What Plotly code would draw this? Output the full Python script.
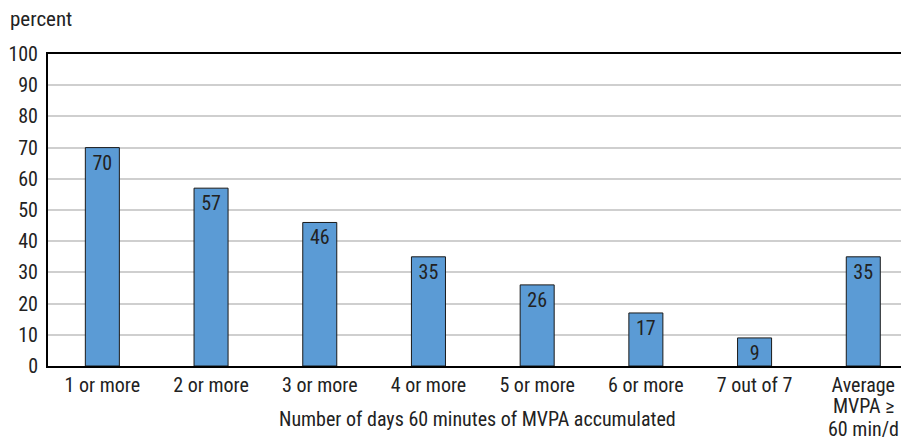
import plotly.graph_objects as go

categories = ["1 or more", "2 or more", "3 or more", "4 or more", "5 or more",
              "6 or more", "7 out of 7", "Average"]
last_label_extra = ["MVPA ≥", "60 min/d"]
values = [70, 57, 46, 35, 26, 17, 9, 35]
y_ticks = [0, 10, 20, 30, 40, 50, 60, 70, 80, 90, 100]

FONT = "Liberation Sans Narrow, Arial Narrow, Roboto Condensed, sans-serif"
TEXT = "#222222"
SIZE = 20
PLOT_H = 312  # px height of the plotting area

x_pos = list(range(len(categories)))

fig = go.Figure(go.Bar(
    x=x_pos,
    y=values,
    width=0.313,
    marker=dict(color="#5b9bd5", line=dict(color="#1a1a1a", width=1)),
    text=[str(v) for v in values],
    textposition="inside",
    insidetextanchor="end",
    textangle=0,
    constraintext="none",
    textfont=dict(family=FONT, size=SIZE, color=TEXT),
    cliponaxis=False,
))

# continuation lines of the last category label, set with tighter leading
extra_annotations = [
    dict(text=t, xref="x", yref="paper", x=x_pos[-1], y=-(40 + 23 * i) / PLOT_H,
         xanchor="center", yanchor="middle", showarrow=False,
         font=dict(family=FONT, size=SIZE, color=TEXT))
    for i, t in enumerate(last_label_extra)
]

fig.update_layout(
    width=901, height=438,
    margin=dict(l=48, r=0, t=54, b=72),
    paper_bgcolor="white", plot_bgcolor="white",
    showlegend=False,
    font=dict(family=FONT, size=SIZE, color=TEXT),
    uniformtext=dict(minsize=SIZE, mode="show"),
    xaxis=dict(
        tickmode="array", tickvals=x_pos, ticktext=categories,
        range=[-0.5, 7.347], automargin=False,
        showline=True, linecolor="black", linewidth=2, mirror=True,
        showgrid=False, ticks="", ticklen=0,
        tickfont=dict(family=FONT, size=SIZE, color=TEXT),
    ),
    yaxis=dict(
        range=[0, 100], tickvals=y_ticks, automargin=False,
        showline=True, linecolor="black", linewidth=2,
        showgrid=True, gridcolor="#cfcfcf", gridwidth=1.5,
        zeroline=False, ticks="", ticklabelstandoff=4,
        tickfont=dict(family=FONT, size=SIZE, color=TEXT),
    ),
    annotations=[
        dict(text="percent", xref="paper", yref="paper", x=-40/853, y=1 + 35/PLOT_H,
             xanchor="left", yanchor="middle", showarrow=False,
             font=dict(family=FONT, size=21, color=TEXT)),
        dict(text="Number of days 60 minutes of MVPA accumulated",
             xref="x", yref="paper", x=3.5 + (478 - 483) / 108.7, y=-53/PLOT_H,
             xanchor="center", yanchor="middle", showarrow=False,
             font=dict(family=FONT, size=SIZE, color=TEXT)),
    ] + extra_annotations,
)

fig.write_html("out.html")
